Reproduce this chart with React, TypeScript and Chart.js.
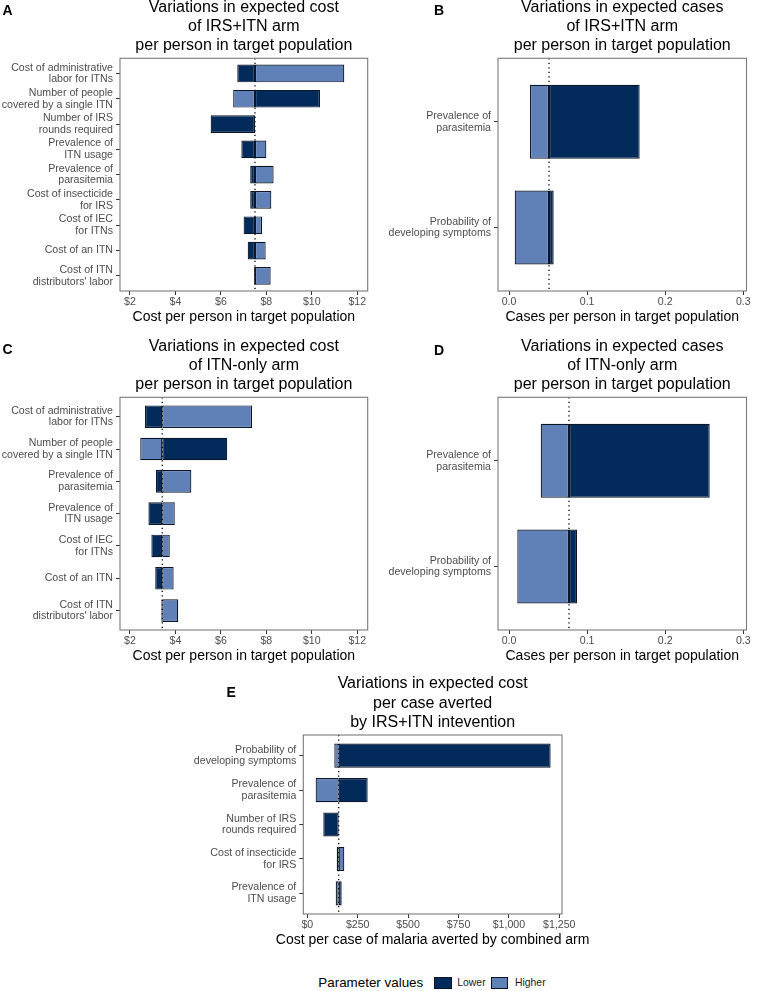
import React, { useEffect, useRef } from 'react';
import { Chart, registerables } from 'chart.js';

Chart.register(...registerables);

const FONT = '"Liberation Sans", Arial, Helvetica, sans-serif';
const DARK = '#022A5B';
const LIGHT = '#6080B8';
const EDGE = '#0A1628';
const AXIS_TEXT = '#4D4D4D';

// ---------- Panel A ----------
const aTitle = ['Variations in expected cost', 'of IRS+ITN arm', 'per person in target population'];
const aCategories = [
  ['Cost of administrative', 'labor for ITNs'],
  ['Number of people', 'covered by a single ITN'],
  ['Number of IRS', 'rounds required'],
  ['Prevalence of', 'ITN usage'],
  ['Prevalence of', 'parasitemia'],
  ['Cost of insecticide', 'for IRS'],
  ['Cost of IEC', 'for ITNs'],
  ['Cost of an ITN'],
  ['Cost of ITN', "distributors' labor"],
];
const aBase = 7.5;
const aLower = [6.72, 10.36, 5.55, 6.9, 7.29, 7.29, 7.0, 7.18, 7.46];
const aHigher = [11.43, 6.54, 7.5, 8.0, 8.32, 8.22, 7.81, 7.97, 8.19];
const aTicks = [2, 4, 6, 8, 10, 12];

// ---------- Panel B ----------
const bTitle = ['Variations in expected cases', 'of IRS+ITN arm', 'per person in target population'];
const bCategories = [
  ['Prevalence of', 'parasitemia'],
  ['Probability of', 'developing symptoms'],
];
const bBase = 0.0512;
const bLower = [0.1673, 0.0572];
const bHigher = [0.0269, 0.0073];
const bTicks = [0, 0.1, 0.2, 0.3];

// ---------- Panel C ----------
const cTitle = ['Variations in expected cost', 'of ITN-only arm', 'per person in target population'];
const cCategories = [
  ['Cost of administrative', 'labor for ITNs'],
  ['Number of people', 'covered by a single ITN'],
  ['Prevalence of', 'parasitemia'],
  ['Prevalence of', 'ITN usage'],
  ['Cost of IEC', 'for ITNs'],
  ['Cost of an ITN'],
  ['Cost of ITN', "distributors' labor"],
];
const cBase = 3.42;
const cLower = [2.66, 6.28, 3.14, 2.81, 2.94, 3.11, 3.38];
const cHigher = [7.37, 2.45, 4.7, 3.97, 3.75, 3.92, 4.12];
const cTicks = [2, 4, 6, 8, 10, 12];

// ---------- Panel D ----------
const dTitle = ['Variations in expected cases', 'of ITN-only arm', 'per person in target population'];
const dCategories = [
  ['Prevalence of', 'parasitemia'],
  ['Probability of', 'developing symptoms'],
];
const dBase = 0.0768;
const dLower = [0.257, 0.0871];
const dHigher = [0.0406, 0.0106];
const dTicks = [0, 0.1, 0.2, 0.3];

// ---------- Panel E ----------
const eTitle = ['Variations in expected cost', 'per case averted', 'by IRS+ITN intevention'];
const eCategories = [
  ['Probability of', 'developing symptoms'],
  ['Prevalence of', 'parasitemia'],
  ['Number of IRS', 'rounds required'],
  ['Cost of insecticide', 'for IRS'],
  ['Prevalence of', 'ITN usage'],
];
const eBase = 155.7;
const eLower = [1207, 299.6, 79.4, 145.8, 170.6];
const eHigher = [134, 41.5, 155.7, 183.5, 141];
const eTicks = [0, 250, 500, 750, 1000, 1250];

const legendTitle = 'Parameter values';
const legendLabels = ['Lower', 'Higher'];

const costPerPerson = 'Cost per person in target population';
const casesPerPerson = 'Cases per person in target population';
const costPerCase = 'Cost per case of malaria averted by combined arm';

const dollar = (v: number) => '$' + v.toLocaleString('en-US');
const oneDec = (v: number) => v.toFixed(1);

const TITLE_H = 3 * 16 * 1.2 + 3;
const AXIS_H = 35;

const tornadoPlugin = {
  id: 'tornado',
  beforeDatasetsDraw(chart: any, _args: any, opts: any) {
    const { ctx, chartArea } = chart;
    const x = chart.scales.x.getPixelForValue(opts.base);
    ctx.save();
    ctx.strokeStyle = '#000000';
    ctx.lineWidth = 1.3;
    ctx.setLineDash([1.3, 3.2]);
    ctx.beginPath();
    ctx.moveTo(x, chartArea.top);
    ctx.lineTo(x, chartArea.bottom);
    ctx.stroke();
    ctx.restore();
  },
  afterDraw(chart: any, _args: any, opts: any) {
    const { ctx, chartArea: a } = chart;
    ctx.save();
    ctx.strokeStyle = '#7a7a7a';
    ctx.lineWidth = 1.1;
    ctx.strokeRect(a.left, a.top, a.right - a.left, a.bottom - a.top);
    // x-axis title (drawn without width compression)
    ctx.fillStyle = '#000000';
    ctx.font = `14px ${FONT}`;
    ctx.textAlign = 'center';
    ctx.textBaseline = 'middle';
    ctx.fillText(opts.xTitle, (a.left + a.right) / 2, a.bottom + 26.5);
    ctx.restore();
  },
};

type Geom = { L: number; T: number; R: number; B: number; left: number; padR: number };
type Spec = {
  title: string[];
  categories: string[][];
  base: number;
  lower: number[];
  higher: number[];
  ticks: number[];
  fmt: (v: number) => string;
  xMin: number;
  xMax: number;
  xTitle: string;
  geom: Geom;
};

function Panel({ spec }: { spec: Spec }) {
  const ref = useRef<HTMLCanvasElement>(null);
  const g = spec.geom;
  const top = Math.floor(g.T - TITLE_H);
  const left = g.left;
  const width = Math.ceil(g.R - left + g.padR);
  const height = Math.ceil(g.B + AXIS_H - top);

  useEffect(() => {
    const n = spec.categories.length;
    const idx = spec.categories.map((_, i) => i);
    const common = {
      borderColor: EDGE,
      borderWidth: 1.2,
      borderSkipped: false,
      grouped: false,
      barPercentage: 0.7,
      categoryPercentage: 1,
    };
    const chart = new Chart(ref.current as HTMLCanvasElement, {
      type: 'bar',
      data: {
        datasets: [
          {
            label: legendLabels[0],
            data: idx.map((i) => ({ y: i, x: [spec.base, spec.lower[i]] })),
            backgroundColor: DARK,
            ...common,
          } as any,
          {
            label: legendLabels[1],
            data: idx.map((i) => ({ y: i, x: [spec.base, spec.higher[i]] })),
            backgroundColor: LIGHT,
            ...common,
          } as any,
        ],
      },
      options: {
        indexAxis: 'y',
        responsive: false,
        animation: false,
        events: [],
        layout: {
          padding: {
            top: g.T - top - TITLE_H,
            bottom: height - (g.B + AXIS_H - top),
            left: 0,
            right: width - (g.R - left),
          },
        },
        plugins: {
          legend: { display: false },
          tooltip: { enabled: false },
          title: {
            display: true,
            text: spec.title,
            fullSize: false,
            color: '#000000',
            font: { family: FONT, size: 16, lineHeight: 1.2, weight: 'normal' },
            padding: { top: 0, bottom: 3 },
          },
          tornado: { base: spec.base, xTitle: spec.xTitle },
        } as any,
        scales: {
          x: {
            type: 'linear',
            min: spec.xMin,
            max: spec.xMax,
            offset: false,
            afterBuildTicks: (s: any) => {
              s.ticks = spec.ticks.map((v) => ({ value: v }));
            },
            afterFit: (s: any) => {
              s.height = AXIS_H;
            },
            ticks: {
              callback: (v: any) => spec.fmt(Number(v)),
              font: { family: FONT, size: 10.6 },
              color: AXIS_TEXT,
              padding: 1,
              autoSkip: false,
              maxRotation: 0,
            },
            grid: {
              display: true,
              offset: false,
              drawOnChartArea: false,
              drawTicks: true,
              tickLength: 4,
              tickColor: '#333333',
            },
            border: { display: false },
            title: { display: false },
          },
          y: {
            type: 'linear',
            reverse: true,
            offset: false,
            min: -0.6,
            max: n - 0.4,
            afterBuildTicks: (s: any) => {
              s.ticks = idx.map((i) => ({ value: i }));
            },
            afterFit: (s: any) => {
              s.width = g.L - left;
            },
            ticks: {
              callback: (v: any) => spec.categories[Math.round(Number(v))],
              font: { family: FONT, size: 10.6, lineHeight: 1.1 },
              color: AXIS_TEXT,
              padding: 3,
              autoSkip: false,
            },
            grid: {
              display: true,
              offset: false,
              drawOnChartArea: false,
              drawTicks: true,
              tickLength: 4,
              tickColor: '#333333',
            },
            border: { display: false },
          },
        } as any,
      } as any,
      plugins: [tornadoPlugin as any],
    });
    return () => chart.destroy();
  }, []);

  return (
    <canvas
      ref={ref}
      width={width}
      height={height}
      style={{ position: 'absolute', left, top, width, height }}
    />
  );
}

const specs: Spec[] = [
  {
    title: aTitle, categories: aCategories, base: aBase, lower: aLower, higher: aHigher,
    ticks: aTicks, fmt: dollar, xMin: 1.56, xMax: 12.46, xTitle: costPerPerson,
    geom: { L: 120, T: 58.3, R: 367.7, B: 291, left: 0, padR: 10 },
  },
  {
    title: bTitle, categories: bCategories, base: bBase, lower: bLower, higher: bHigher,
    ticks: bTicks, fmt: oneDec, xMin: -0.0141, xMax: 0.3041, xTitle: casesPerPerson,
    geom: { L: 498, T: 58.3, R: 746.5, B: 291, left: 378, padR: 10 },
  },
  {
    title: cTitle, categories: cCategories, base: cBase, lower: cLower, higher: cHigher,
    ticks: cTicks, fmt: dollar, xMin: 1.56, xMax: 12.46, xTitle: costPerPerson,
    geom: { L: 120, T: 397.3, R: 367.7, B: 630, left: 0, padR: 10 },
  },
  {
    title: dTitle, categories: dCategories, base: dBase, lower: dLower, higher: dHigher,
    ticks: dTicks, fmt: oneDec, xMin: -0.0141, xMax: 0.3041, xTitle: casesPerPerson,
    geom: { L: 498, T: 397.3, R: 746.5, B: 630, left: 378, padR: 10 },
  },
  {
    title: eTitle, categories: eCategories, base: eBase, lower: eLower, higher: eHigher,
    ticks: eTicks, fmt: dollar, xMin: -19.8, xMax: 1263.4, xTitle: costPerCase,
    geom: { L: 303.3, T: 735, R: 562, B: 914, left: 188, padR: 60 },
  },
];

const letters = [
  { t: 'A', x: 2.5, y: 3.2 },
  { t: 'B', x: 434, y: 3.2 },
  { t: 'C', x: 2.5, y: 342 },
  { t: 'D', x: 434, y: 342.5 },
  { t: 'E', x: 226.5, y: 685 },
];

export default function App() {
  const legendY = 983;
  return (
    <div
      style={{
        position: 'absolute',
        left: 0,
        top: 0,
        width: 757,
        height: 991,
        background: '#ffffff',
        overflow: 'hidden',
        fontFamily: FONT,
      }}
    >
      {specs.map((s, i) => (
        <Panel key={i} spec={s} />
      ))}
      {letters.map((l) => (
        <div
          key={l.t}
          style={{
            position: 'absolute',
            left: l.x,
            top: l.y,
            fontSize: 14,
            lineHeight: '14px',
            fontWeight: 'bold',
            color: '#000',
          }}
        >
          {l.t}
        </div>
      ))}
      <div style={{ position: 'absolute', left: 318.3, top: legendY - 8, height: 16, lineHeight: '16px', fontSize: 13.4, color: '#000', whiteSpace: 'nowrap' }}>
        {legendTitle}
      </div>
      <div style={{ position: 'absolute', left: 434.3, top: legendY - 6, width: 15.4, height: 10, background: DARK, border: `1px solid ${EDGE}` }} />
      <div style={{ position: 'absolute', left: 457.3, top: legendY - 7, height: 14, lineHeight: '14px', fontSize: 10.4, color: '#1a1a1a', whiteSpace: 'nowrap' }}>
        {legendLabels[0]}
      </div>
      <div style={{ position: 'absolute', left: 491, top: legendY - 6, width: 15.4, height: 10, background: LIGHT, border: `1px solid ${EDGE}` }} />
      <div style={{ position: 'absolute', left: 515, top: legendY - 7, height: 14, lineHeight: '14px', fontSize: 10.4, color: '#1a1a1a', whiteSpace: 'nowrap' }}>
        {legendLabels[1]}
      </div>
    </div>
  );
}
